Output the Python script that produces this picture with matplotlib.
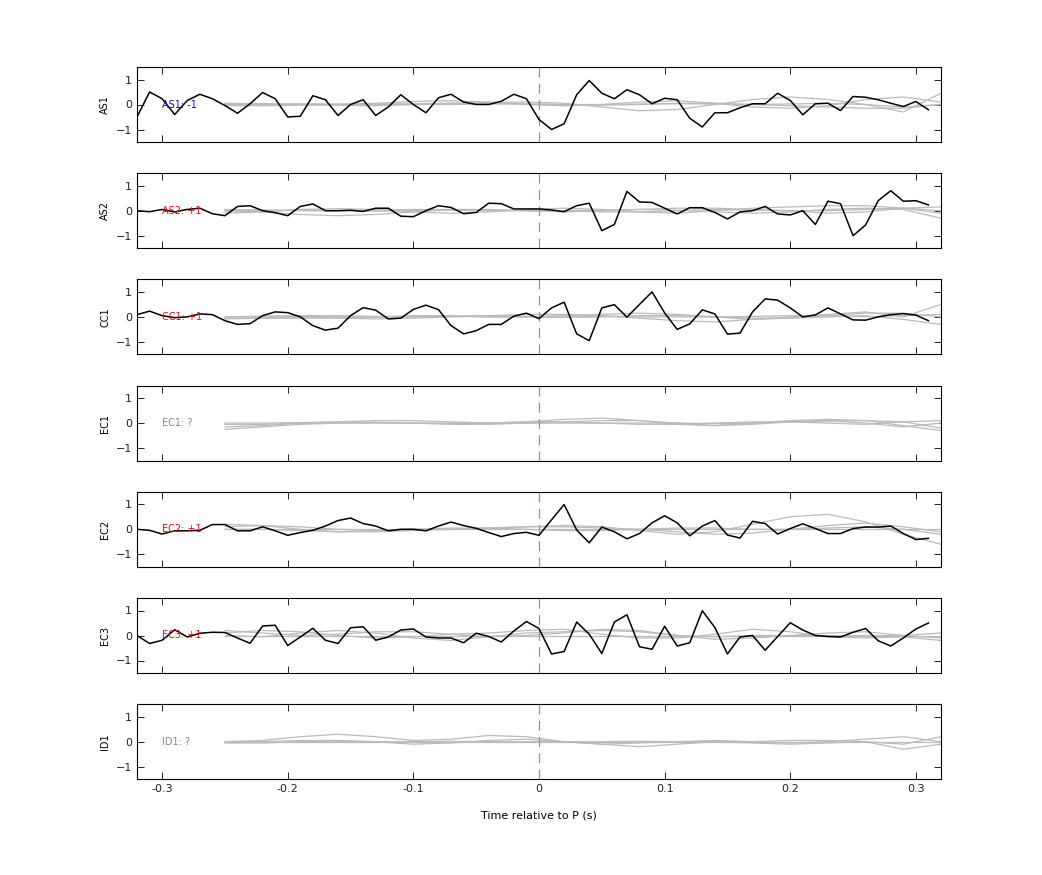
import numpy as np
import matplotlib
matplotlib.use("Agg")
import matplotlib.pyplot as plt

stations = ["AS1", "AS2", "CC1", "EC1", "EC2", "EC3", "ID1"]
labels = ["AS1: -1", "AS2: +1", "CC1: +1", "EC1: ?", "EC2: +1", "EC3: +1", "ID1: ?"]
label_colors = ["#1010c0", "#e01010", "#e01010", "#888888", "#e01010", "#e01010", "#888888"]

t_black = np.round(np.arange(-0.32, 0.315, 0.01), 2)
black = {
    "AS1": [-0.5, 0.5, 0.23, -0.4, 0.16, 0.41, 0.23, -0.04, -0.35, 0.03, 0.48, 0.23, -0.5, -0.47, 0.35, 0.19,
            -0.44, 0.0, 0.19, -0.44, -0.1, 0.39, 0.0, -0.33, 0.27, 0.41, 0.1, 0.0, 0.0, 0.13, 0.41, 0.23, -0.6,
            -1.0, -0.77, 0.39, 0.96, 0.45, 0.23, 0.59, 0.39, 0.03, 0.25, 0.19, -0.55, -0.9, -0.33, -0.33, -0.13,
            0.03, 0.03, 0.45, 0.16, -0.41, 0.03, 0.05, -0.24, 0.32, 0.29, 0.19, 0.05, -0.08, 0.12, -0.21],
    "AS2": [0.0, -0.04, 0.05, -0.05, 0.05, 0.1, -0.12, -0.2, 0.17, 0.2, 0.0, -0.08, -0.2, 0.17, 0.27, 0.0,
            0.0, 0.02, -0.03, 0.1, 0.1, -0.22, -0.24, 0.0, 0.2, 0.13, -0.12, -0.07, 0.3, 0.28, 0.07, 0.07, 0.07,
            0.03, -0.04, 0.2, 0.3, -0.8, -0.55, 0.77, 0.35, 0.33, 0.1, -0.13, 0.12, 0.12, -0.07, -0.33, -0.05,
            0.0, 0.17, -0.13, -0.17, 0.0, -0.55, 0.38, 0.28, -1.0, -0.57, 0.4, 0.8, 0.38, 0.4, 0.23],
    "CC1": [0.09, 0.23, 0.05, -0.03, 0.0, 0.12, 0.09, -0.15, -0.3, -0.27, 0.05, 0.2, 0.17, 0.0, -0.35, -0.53,
            -0.45, 0.05, 0.37, 0.27, -0.08, -0.05, 0.3, 0.47, 0.29, -0.35, -0.68, -0.55, -0.3, -0.3, 0.03, 0.15, -0.07,
            0.36, 0.59, -0.68, -0.95, 0.36, 0.49, -0.01, 0.5, 1.0, 0.16, -0.5, -0.28, 0.28, 0.12, -0.69, -0.65,
            0.2, 0.72, 0.67, 0.36, 0.0, 0.08, 0.36, 0.12, -0.12, -0.13, 0.0, 0.09, 0.13, 0.07, -0.15],
    "EC2": [0.0, -0.04, -0.19, -0.06, -0.06, -0.04, 0.19, 0.19, -0.06, -0.06, 0.1, -0.06, -0.24, -0.13, -0.04, 0.13,
            0.35, 0.45, 0.23, 0.13, -0.06, 0.0, 0.0, -0.06, 0.13, 0.29, 0.15, 0.04, -0.13, -0.29, -0.17, -0.12, -0.24,
            0.38, 0.99, -0.03, -0.54, 0.09, -0.1, -0.38, -0.17, 0.26, 0.54, 0.26, -0.26, 0.13, 0.35, -0.23, -0.35,
            0.32, 0.23, -0.19, 0.03, 0.22, 0.03, -0.17, -0.17, 0.03, 0.09, 0.09, 0.13, -0.17, -0.41, -0.36],
    "EC3": [0.0, -0.32, -0.19, 0.23, -0.06, 0.09, 0.13, 0.12, -0.1, -0.31, 0.38, 0.41, -0.4, -0.06, 0.29, -0.19,
            -0.32, 0.31, 0.35, -0.19, -0.06, 0.22, 0.26, -0.06, -0.1, -0.1, -0.29, 0.09, -0.04, -0.26, 0.18, 0.56, 0.28,
            -0.74, -0.64, 0.54, 0.05, -0.72, 0.54, 0.83, -0.45, -0.55, 0.37, -0.42, -0.29, 0.99, 0.32, -0.74, -0.06,
            0.0, -0.59, -0.04, 0.51, 0.22, 0.0, -0.04, -0.06, 0.13, 0.28, -0.21, -0.42, -0.1, 0.26, 0.5],
}

t_grey = np.round(np.arange(-0.25, 0.321, 0.03), 2)  # 20 samples
grey = {
    "AS1": [[0.0, 0.0, 0.0, 0.0, 0.02, 0.03, 0.05, 0.08, 0.1, 0.05, -0.1, -0.25, -0.2, 0.0, 0.2, 0.3, 0.2, 0.0, -0.1, 0.0],
            [-0.05, -0.05, -0.03, 0.0, 0.05, 0.12, 0.15, 0.1, 0.0, -0.05, 0.0, 0.1, 0.15, 0.05, -0.1, -0.15, -0.05, 0.2, 0.3, 0.1],
            [0.0, 0.02, 0.03, 0.02, 0.0, 0.0, 0.0, 0.02, 0.02, 0.0, 0.0, 0.02, 0.03, 0.02, 0.0, 0.02, 0.05, 0.0, -0.3, 0.45],
            [0.05, 0.03, 0.0, -0.03, -0.05, 0.0, 0.05, 0.05, 0.02, 0.0, -0.03, 0.0, 0.05, 0.05, 0.0, -0.05, -0.1, -0.15, -0.15, 0.0]],
    "AS2": [[0.0, -0.05, -0.15, -0.2, -0.15, -0.05, 0.05, 0.05, 0.0, -0.05, 0.0, 0.05, 0.1, 0.1, 0.05, 0.0, -0.1, -0.05, 0.1, 0.15],
            [-0.1, -0.05, 0.05, 0.08, 0.05, -0.05, -0.1, -0.05, 0.05, 0.1, 0.05, -0.05, -0.1, 0.0, 0.1, 0.15, 0.2, 0.2, 0.1, -0.1],
            [0.05, 0.03, 0.0, 0.0, 0.02, 0.05, 0.05, 0.02, 0.0, 0.0, 0.02, 0.05, 0.02, -0.05, -0.1, -0.05, 0.05, 0.1, 0.05, -0.3],
            [0.0, 0.0, 0.02, 0.0, -0.02, 0.0, 0.02, 0.0, 0.0, 0.0, -0.05, -0.05, 0.0, 0.05, 0.02, 0.0, 0.0, 0.05, 0.1, 0.0]],
    "CC1": [[-0.05, -0.05, -0.05, -0.03, 0.0, 0.05, 0.05, 0.0, 0.0, 0.05, 0.1, 0.15, 0.1, 0.0, -0.1, -0.05, 0.05, 0.15, 0.15, 0.0],
            [0.0, 0.03, 0.05, 0.05, 0.02, 0.0, 0.02, 0.05, 0.1, 0.1, 0.05, -0.05, -0.15, -0.2, -0.1, 0.0, 0.1, 0.2, 0.0, 0.5],
            [-0.08, -0.05, -0.03, -0.05, -0.08, -0.05, 0.0, 0.05, 0.02, -0.02, 0.0, 0.05, 0.05, 0.0, -0.05, -0.05, 0.0, 0.05, -0.1, -0.3],
            [0.0, 0.0, 0.02, 0.0, 0.0, 0.0, 0.02, 0.0, 0.0, 0.0, 0.02, 0.0, 0.0, 0.0, 0.02, 0.05, 0.05, 0.0, 0.05, 0.1]],
    "EC1": [[-0.25, -0.15, -0.05, 0.0, 0.02, 0.0, -0.05, -0.05, 0.0, 0.05, 0.1, 0.1, 0.0, -0.1, -0.05, 0.05, 0.1, 0.0, -0.15, 0.0],
            [-0.15, -0.1, 0.0, 0.05, 0.1, 0.1, 0.05, 0.0, 0.05, 0.15, 0.2, 0.1, -0.05, -0.1, 0.0, 0.1, 0.15, 0.1, -0.1, -0.3],
            [0.0, 0.0, 0.02, 0.05, 0.03, 0.0, -0.02, 0.0, 0.05, 0.05, 0.0, -0.05, -0.05, 0.0, 0.05, 0.05, 0.0, -0.05, 0.05, 0.1],
            [-0.05, -0.05, 0.0, 0.0, 0.0, 0.0, 0.0, 0.0, 0.0, 0.0, 0.0, 0.0, 0.0, -0.02, 0.0, 0.05, 0.08, 0.1, 0.05, -0.2]],
    "EC2": [[0.0, 0.0, -0.05, -0.1, -0.05, 0.0, 0.0, 0.05, 0.1, 0.15, 0.1, -0.05, -0.2, -0.1, 0.2, 0.5, 0.6, 0.3, -0.2, -0.6],
            [0.2, 0.15, 0.0, -0.1, -0.1, -0.05, 0.0, 0.05, 0.1, 0.1, 0.05, 0.0, -0.1, -0.2, -0.15, 0.0, 0.15, 0.25, 0.1, -0.1],
            [0.1, 0.15, 0.1, 0.0, -0.05, 0.0, 0.05, 0.05, 0.0, -0.05, -0.05, 0.0, 0.05, 0.05, 0.0, 0.0, 0.05, 0.1, 0.0, -0.2],
            [0.0, 0.0, 0.0, 0.0, 0.0, 0.0, 0.0, 0.0, 0.0, 0.0, 0.0, 0.0, 0.0, 0.0, 0.0, 0.0, 0.0, 0.0, 0.0, 0.0]],
    "EC3": [[0.1, 0.2, 0.15, 0.0, -0.1, -0.05, 0.05, 0.1, 0.2, 0.25, 0.05, -0.1, -0.1, 0.05, 0.25, 0.15, -0.05, -0.1, -0.05, -0.2],
            [0.0, -0.05, 0.1, 0.2, 0.1, -0.1, -0.2, -0.05, 0.1, 0.15, 0.2, 0.15, 0.0, -0.15, -0.1, 0.0, 0.1, 0.15, 0.0, -0.1],
            [0.2, 0.1, 0.0, 0.05, 0.15, 0.15, 0.05, -0.05, 0.0, 0.1, 0.25, 0.2, 0.0, -0.05, 0.0, 0.0, 0.0, 0.0, 0.0, 0.1],
            [0.0, 0.0, 0.0, 0.0, 0.0, 0.0, 0.0, 0.0, 0.0, 0.0, 0.0, 0.0, 0.0, 0.0, 0.0, 0.0, 0.0, 0.0, 0.0, 0.0]],
    "ID1": [[0.0, 0.05, 0.2, 0.3, 0.2, 0.05, 0.1, 0.25, 0.2, 0.0, -0.1, -0.05, 0.0, 0.05, 0.0, -0.05, 0.0, 0.1, 0.2, 0.0],
            [0.0, 0.0, 0.05, 0.05, 0.0, -0.1, -0.05, 0.05, 0.1, 0.0, -0.1, -0.2, -0.1, 0.0, -0.05, -0.1, -0.05, 0.0, -0.3, -0.1],
            [-0.05, -0.05, 0.0, 0.02, 0.0, 0.0, 0.02, 0.0, 0.0, 0.0, 0.0, 0.02, 0.0, 0.0, 0.0, 0.05, 0.05, 0.0, -0.1, 0.2],
            [0.0, 0.0, 0.0, 0.0, 0.0, 0.0, 0.0, 0.0, 0.0, 0.0, 0.0, 0.0, 0.0, 0.0, 0.0, 0.0, 0.0, 0.0, 0.0, 0.0]],
}

W, H = 1042, 875
fig = plt.figure(figsize=(W / 100, H / 100), dpi=100)
left, right = 137 / W, 941 / W
for i, st in enumerate(stations):
    top_px = 67 + 106.2 * i
    ax = fig.add_axes([left, 1 - (top_px + 75) / H, right - left, 75 / H])
    for g in grey[st]:
        ax.plot(t_grey, g, color="#bbbbbb", lw=0.9)
    ax.axvline(0, color="#b08888", lw=0.9, ls=(0, (8, 5)))
    if st in black:
        ax.plot(t_black, black[st], color="black", lw=1.1)
    ax.text(-0.3, 0, labels[i], color=label_colors[i], fontsize=7, va="center", ha="left")
    ax.set_xlim(-0.32, 0.32)
    ax.set_ylim(-1.5, 1.5)
    ax.set_yticks([-1, 0, 1])
    ax.set_xticks([-0.3, -0.2, -0.1, 0, 0.1, 0.2, 0.3])
    ax.tick_params(direction="in", top=True, right=True, labelsize=8, length=5, width=0.7, colors="#222222")
    ax.set_ylabel(st, fontsize=7)
    for s in ax.spines.values():
        s.set_linewidth(0.8)
    if i < len(stations) - 1:
        ax.set_xticklabels([])
    else:
        ax.set_xticklabels(["-0.3", "-0.2", "-0.1", "0", "0.1", "0.2", "0.3"])
        ax.set_xlabel("Time relative to P (s)", fontsize=8, labelpad=12)

fig.savefig("out.png", dpi=100)
